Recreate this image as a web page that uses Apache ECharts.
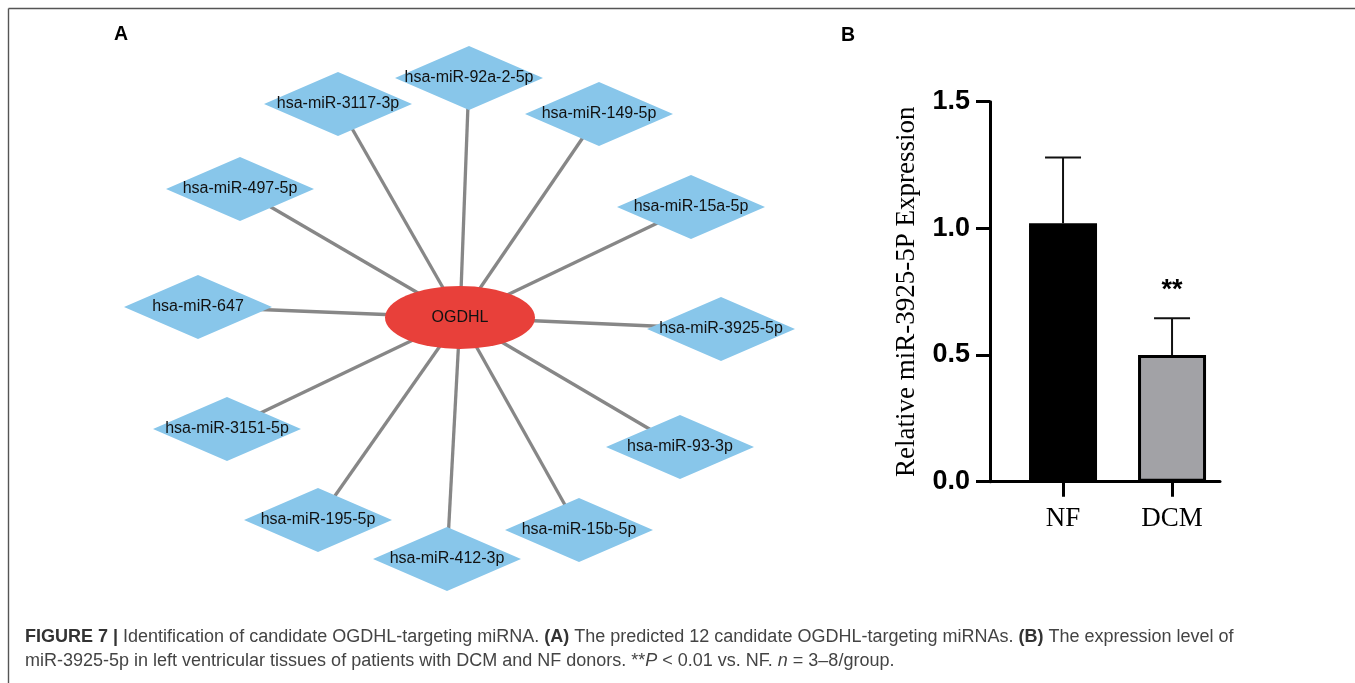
<!DOCTYPE html>
<html><head><meta charset="utf-8">
<script src="https://cdn.jsdelivr.net/npm/echarts@6/dist/echarts.min.js"></script>
<style>html,body{margin:0;padding:0;background:#fff}#c{width:1355px;height:683px}</style>
</head><body><div id="c"></div>
<script>
// ---- Panel A: network (layout positions, in figure pixel units) ----
const hubName = 'OGDHL';
const hubX = 460;
const hubY = 317.5;
const mirnaNames = ['hsa-miR-92a-2-5p','hsa-miR-3117-3p','hsa-miR-149-5p','hsa-miR-497-5p','hsa-miR-15a-5p','hsa-miR-647','hsa-miR-3925-5p','hsa-miR-3151-5p','hsa-miR-93-3p','hsa-miR-195-5p','hsa-miR-15b-5p','hsa-miR-412-3p'];
const mirnaX = [469, 338, 599, 240, 691, 198, 721, 227, 680, 318, 579, 447];
const mirnaY = [78, 104, 114, 189, 207, 307, 329, 429, 447, 520, 530, 559];

// ---- Panel B: bar chart ----
const groups = ['NF', 'DCM'];
const means = [1.02, 0.50];
const errs = [0.26, 0.145];
const sigMarks = ['', '**'];
const yTickValues = [0, 0.5, 1.0, 1.5];

const chart = echarts.init(document.getElementById('c'), null, {renderer: 'canvas'});

const nodes = [{
  name: hubName, value: [hubX, hubY],
  symbol: 'path://M0,50A100,50,0,1,1,200,50A100,50,0,1,1,0,50Z',
  symbolSize: [150, 63],
  itemStyle: {color: '#E8403A'}
}].concat(mirnaNames.map((n, i) => ({
  name: n, value: [mirnaX[i], mirnaY[i]],
  symbol: 'diamond', symbolSize: [148, 64],
  itemStyle: {color: '#88C6EA'}
})));
const links = mirnaNames.map(n => ({source: hubName, target: n}));

const capFont = 'Liberation Sans, Arial';
const option = {
  animation: false,
  backgroundColor: '#fff',
  title: [
    {text: 'A', left: 114, top: 25, padding: 0, textStyle: {fontSize: 19.5, fontWeight: 'bold', fontFamily: capFont, color: '#000'}},
    {text: 'B', left: 841, top: 26, padding: 0, textStyle: {fontSize: 19.5, fontWeight: 'bold', fontFamily: capFont, color: '#000'}},
    {text: '{b|FIGURE 7 |}{n| Identification of candidate OGDHL-targeting miRNA. }{b|(A)}{n| The predicted 12 candidate OGDHL-targeting miRNAs. }{b|(B)}{n| The expression level of}',
     left: 25, top: 628, padding: 0,
     textStyle: {fontWeight: 'normal', rich: {
       b: {fontSize: 18, fontWeight: 'bold', fontFamily: capFont, color: '#333'},
       n: {fontSize: 18, fontWeight: 'normal', fontFamily: capFont, color: '#444'}
     }}},
    {text: '{n|miR-3925-5p in left ventricular tissues of patients with DCM and NF donors. **}{i|P}{n| < 0.01 vs. NF. }{i|n}{n| = 3–8/group.}',
     left: 25, top: 652, padding: 0,
     textStyle: {fontWeight: 'normal', rich: {
       n: {fontSize: 18, fontWeight: 'normal', fontFamily: capFont, color: '#444'},
       i: {fontSize: 18, fontWeight: 'normal', fontStyle: 'italic', fontFamily: capFont, color: '#444'}
     }}}
  ],
  graphic: [
    {type: 'line', shape: {x1: 8.5, y1: 8.5, x2: 1355, y2: 8.5}, style: {stroke: '#555', lineWidth: 1.4}},
    {type: 'line', shape: {x1: 8.5, y1: 8.5, x2: 8.5, y2: 683}, style: {stroke: '#555', lineWidth: 1.4}}
  ],
  grid: [
    {left: 0, top: 0, right: 0, bottom: 0, show: false},
    {left: 990, top: 101.7, right: 135, bottom: 201.3, show: false}
  ],
  xAxis: [
    {gridIndex: 0, type: 'value', min: 0, max: 1355, show: false},
    {gridIndex: 1, type: 'value', min: 0.33, max: 2.44,
     axisLine: {show: true, lineStyle: {color: '#000', width: 3}},
     axisTick: {show: true, customValues: [1, 2], length: 15, lineStyle: {color: '#000', width: 3}},
     axisLabel: {show: true, customValues: [1, 2], formatter: v => groups[Math.round(v) - 1] || '',
       fontFamily: 'Liberation Serif, Times New Roman', fontSize: 27, color: '#000', margin: 24},
     splitLine: {show: false}}
  ],
  yAxis: [
    {gridIndex: 0, type: 'value', min: 0, max: 683, inverse: true, show: false},
    {gridIndex: 1, type: 'value', min: 0, max: 1.5, interval: 0.5,
     name: 'Relative miR-3925-5P Expression', nameLocation: 'middle', nameGap: 70,
     nameTextStyle: {fontFamily: 'Liberation Serif, Times New Roman', fontSize: 27, color: '#000'},
     axisLine: {show: true, lineStyle: {color: '#000', width: 3}},
     axisTick: {show: true, length: 14, lineStyle: {color: '#000', width: 3}},
     axisLabel: {show: true, formatter: v => yTickValues.indexOf(v) >= 0 ? v.toFixed(1) : '',
       fontFamily: capFont, fontWeight: 'bold', fontSize: 27, color: '#000', margin: 20},
     splitLine: {show: false}}
  ],
  series: [
    {
      type: 'graph', coordinateSystem: 'cartesian2d', xAxisIndex: 0, yAxisIndex: 0,
      data: nodes, links: links, silent: true,
      lineStyle: {color: '#878787', width: 3.3, opacity: 1, curveness: 0},
      label: {show: true, position: 'inside', color: '#111', fontSize: 16, fontFamily: capFont},
      z: 2
    },
    {
      type: 'bar', xAxisIndex: 1, yAxisIndex: 1, barWidth: 68,
      data: groups.map((g, i) => ({value: [i + 1, means[i]], itemStyle: {color: i === 0 ? '#000' : '#A2A2A6', borderColor: '#000', borderWidth: 3}})),
      z: 3
    },
    {
      type: 'custom', xAxisIndex: 1, yAxisIndex: 1, z: 4,
      data: groups.map((g, i) => [i + 1, means[i], errs[i], i]),
      renderItem: function (params, api) {
        const x = api.value(0), m = api.value(1), e = api.value(2), idx = api.value(3);
        const b = api.coord([x, m]);
        const t = api.coord([x, m + e]);
        const children = [
          {type: 'line', shape: {x1: b[0], y1: b[1], x2: t[0], y2: t[1]}, style: {stroke: '#111', lineWidth: 2}},
          {type: 'line', shape: {x1: t[0] - 18, y1: t[1], x2: t[0] + 18, y2: t[1]}, style: {stroke: '#111', lineWidth: 2}}
        ];
        if (sigMarks[idx]) {
          children.push({type: 'text', style: {text: sigMarks[idx], x: t[0], y: t[1] - 28, align: 'center', verticalAlign: 'middle',
            fontSize: 27, fontWeight: 'bold', fontFamily: capFont, fill: '#000'}});
        }
        return {type: 'group', children: children};
      }
    }
  ]
};
chart.setOption(option);
</script>
</body></html>
